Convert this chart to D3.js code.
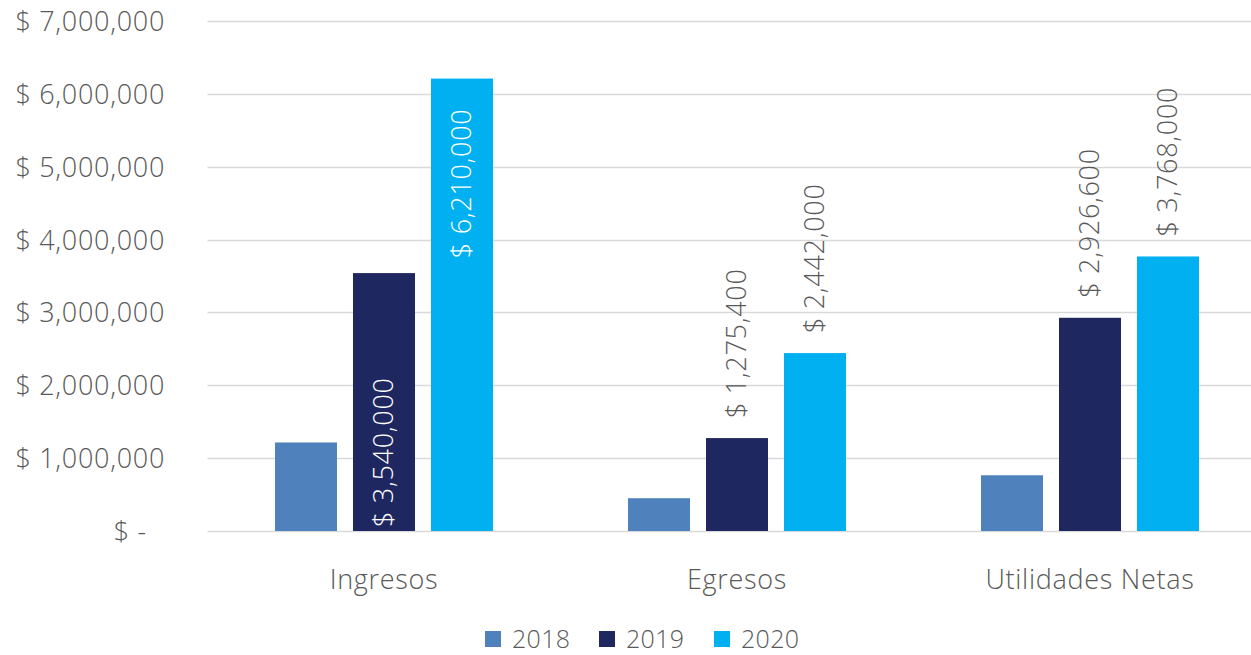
<!DOCTYPE html>
<html>
<head>
<meta charset="utf-8">
<script src="https://cdn.jsdelivr.net/npm/d3@7/dist/d3.min.js"></script>
<style>
  body { margin: 0; background: #fff; }
  svg text { font-family: "Open Sans", sans-serif; font-weight: 300; letter-spacing: 0.7px; }
</style>
</head>
<body>
<div id="chart"></div>
<script>
const categories = ["Ingresos", "Egresos", "Utilidades Netas"];
const years = ["2018", "2019", "2020"];
const values2018 = [1215000, 450000, 765000];
const values2019 = [3540000, 1275400, 2926600];
const values2020 = [6210000, 2442000, 3768000];
const yTicks = [0, 1000000, 2000000, 3000000, 4000000, 5000000, 6000000, 7000000];
// which bars carry a value label, and where it sits
const labelPlace = {
  "2019": ["insideBase", "outside", "outside"],
  "2020": ["insideEnd", "outside", "outside"],
};

const W = 1251, H = 655;
const margin = { top: 21, left: 207.5, bottom: 124 };
const bandEnd = 1266.5;
const colors = { "2018": "#4F81BD", "2019": "#1F2761", "2020": "#00B0F0" };
const textColor = "#595959";
const fs = 27;

const series = years.map((yr, i) => ({
  key: yr,
  values: [values2018, values2019, values2020][i],
}));

const svg = d3.select("#chart").append("svg").attr("width", W).attr("height", H);

const x0 = d3.scaleBand().domain(categories).range([margin.left, bandEnd]);
const groupPad = 67.5;
const x1 = d3.scaleBand().domain(years)
  .range([groupPad, x0.bandwidth() - groupPad])
  .paddingInner(0.205)
  .paddingOuter(0);
const y = d3.scaleLinear().domain([0, 7000000]).range([H - margin.bottom, margin.top]);

const fmt = d3.format(",");

// GRID
svg.append("g")
  .selectAll("line")
  .data(yTicks)
  .enter()
  .append("line")
  .attr("x1", margin.left)
  .attr("x2", bandEnd)
  .attr("y1", (d) => Math.round(y(d)) + 0.5)
  .attr("y2", (d) => Math.round(y(d)) + 0.5)
  .attr("stroke", "#D9D9D9")
  .attr("stroke-width", 1.5);

// Y AXIS
const yAxis = d3.axisLeft(y)
  .tickValues(yTicks)
  .tickSize(0)
  .tickPadding(0)
  .tickFormat((d) => (d === 0 ? "$ -" : "$ " + fmt(d)));

const yG = svg.append("g")
  .attr("transform", "translate(165,0)")
  .call(yAxis);
yG.select(".domain").remove();
yG.selectAll("text")
  .attr("fill", textColor)
  .style("font-size", fs + "px")
  .attr("dy", "0.35em")
  .attr("x", (d) => (d === 0 ? -18 : 0));

// BARS
const groups = svg.append("g")
  .selectAll("g")
  .data(series)
  .enter()
  .append("g")
  .attr("fill", (d) => colors[d.key]);

groups.selectAll("rect")
  .data((s) => s.values.map((v, i) => ({ key: s.key, cat: categories[i], v: v })))
  .enter()
  .append("rect")
  .attr("x", (d) => x0(d.cat) + x1(d.key))
  .attr("width", x1.bandwidth())
  .attr("y", (d) => y(d.v))
  .attr("height", (d) => y(0) - y(d.v));

// DATA LABELS
const labels = [];
series.forEach((s) => {
  if (!labelPlace[s.key]) return;
  s.values.forEach((v, i) => {
    labels.push({ key: s.key, cat: categories[i], v: v, place: labelPlace[s.key][i] });
  });
});

svg.append("g")
  .selectAll("text")
  .data(labels)
  .enter()
  .append("text")
  .attr("transform", (d) => {
    const cx = x0(d.cat) + x1(d.key) + x1.bandwidth() / 2;
    let ty;
    if (d.place === "outside") ty = y(d.v) - 20;
    else if (d.place === "insideEnd") ty = y(d.v) + 30;
    else ty = y(0) - 4;
    return `translate(${cx},${ty}) rotate(-90)`;
  })
  .attr("text-anchor", (d) => (d.place === "insideEnd" ? "end" : "start"))
  .attr("dy", "0.35em")
  .attr("fill", (d) => (d.place === "outside" ? textColor : "#fff"))
  .style("font-size", fs + "px")
  .text((d) => "$ " + fmt(d.v));

// CATEGORY LABELS
svg.append("g")
  .selectAll("text")
  .data(categories)
  .enter()
  .append("text")
  .attr("x", (d) => x0(d) + x0.bandwidth() / 2)
  .attr("y", 580)
  .attr("dy", "0.35em")
  .attr("text-anchor", "middle")
  .attr("fill", textColor)
  .style("font-size", fs + "px")
  .text((d) => d);

// LEGEND
const legendX = [485, 599, 714];
const legend = svg.append("g")
  .selectAll("g")
  .data(years)
  .enter()
  .append("g")
  .attr("transform", (d, i) => `translate(${legendX[i]},631)`);

legend.append("rect")
  .attr("width", 16)
  .attr("height", 16)
  .attr("fill", (d) => colors[d]);

legend.append("text")
  .attr("x", 27)
  .attr("y", 8)
  .attr("dy", "0.35em")
  .attr("fill", textColor)
  .style("font-size", "25px")
  .style("letter-spacing", "0.3px")
  .text((d) => d);
</script>
</body>
</html>
